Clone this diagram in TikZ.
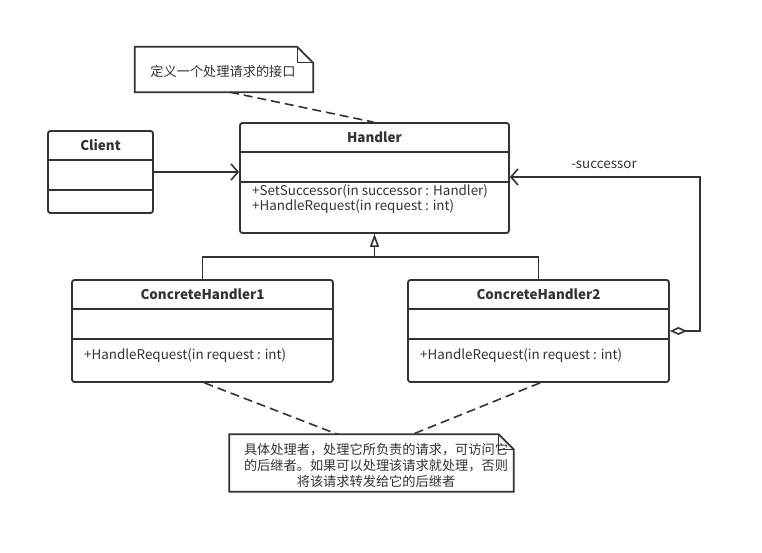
\documentclass[tikz,border=0pt]{standalone}
\usepackage{fontspec}
\setmainfont{Noto Sans CJK SC}
\usetikzlibrary{arrows.meta,calc}
\definecolor{ln}{HTML}{333333}
\begin{document}
\begin{tikzpicture}[x=1pt,y=-1pt,
  every node/.style={font=\fontsize{13.4}{15}\selectfont, text=ln},
  cls/.style={draw=ln, line width=1.8pt, rounded corners=2.5pt, inner sep=0pt},
  dv/.style={draw=ln, line width=1.8pt},
  ttl/.style={font=\fontsize{13.4}{15}\selectfont\bfseries},
  mth/.style={anchor=west, inner sep=0pt},
  conn/.style={draw=ln, line width=1.6pt},
  notedash/.style={conn, dash pattern=on 9pt off 5pt},
  notebox/.style={draw=ln, line width=1.8pt, line join=miter}
]
\useasboundingbox[fill=white] (0,0) rectangle (762,553);

% Classes
\node[cls, minimum width=269pt, minimum height=110pt] (handler) at (374.5,178) {};
\node[cls, minimum width=105pt, minimum height=82pt] (client) at (100.5,172) {};
\node[cls, minimum width=261pt, minimum height=102pt] (ch1) at (202.5,331) {};
\node[cls, minimum width=261pt, minimum height=102pt] (ch2) at (538.5,331) {};

% dividers
\foreach \c in {handler,client,ch1,ch2}{
  \draw[dv] ([yshift=-30pt]\c.north west) -- ([yshift=-30pt]\c.north east);
  \draw[dv] ([yshift=-60pt]\c.north west) -- ([yshift=-60pt]\c.north east);
}

% titles
\node[ttl] (handlerT) at ([yshift=-15pt]handler.north) {Handler};
\node[ttl] (clientT) at ([yshift=-15pt]client.north) {Client};
\node[ttl] (ch1T) at ([yshift=-15pt]ch1.north) {ConcreteHandler1};
\node[ttl] (ch2T) at ([yshift=-15pt]ch2.north) {ConcreteHandler2};

% methods
\node[mth] (hm1) at (252,191) {+SetSuccessor(in successor : Handler)};
\node[mth] (hm2) at (252,207) {+HandleRequest(in request : int)};
\node[mth] (c1m) at (84,356) {+HandleRequest(in request : int)};
\node[mth] (c2m) at (420,356) {+HandleRequest(in request : int)};

% notes
\node[minimum width=178pt, minimum height=45pt, inner sep=0pt] (note1) at (224,69.5) {};
\draw[notebox] (note1.south west) -- (note1.north west) -- ([xshift=-16pt]note1.north east)
  -- ([yshift=-16pt]note1.north east) -- (note1.south east) -- cycle;
\draw[notebox, line width=1.2pt] ([xshift=-16pt]note1.north east) |- ([yshift=-16pt]note1.north east);
\node[font=\fontsize{13.2}{15}\selectfont] (note1T) at (223,71) {定义一个处理请求的接口};

\node[minimum width=284pt, minimum height=57pt, inner sep=0pt] (note2) at (371.5,463) {};
\draw[notebox] (note2.south west) -- (note2.north west) -- ([xshift=-15pt]note2.north east)
  -- ([yshift=-15pt]note2.north east) -- (note2.south east) -- cycle;
\draw[notebox, line width=1.2pt] ([xshift=-15pt]note2.north east) |- ([yshift=-15pt]note2.north east);
\node[align=center, font=\fontsize{13.2}{16}\selectfont] (note2T) at (376,465)
  {具体处理者，处理它所负责的请求，可访问它\\的后继者。如果可以处理该请求就处理，否则\\将该请求转发给它的后继者};

% connectors
\draw[notedash] ([xshift=6pt]note1.south) -- ([xshift=-1pt]handler.north);
\draw[notedash] ([xshift=2pt]ch1.south) -- ([xshift=-34pt]note2.north);
\draw[notedash] ([xshift=1.5pt]ch2.south) -- ([xshift=41pt]note2.north);

\draw[conn, -{Straight Barb[length=7pt,width=16pt,line width=1.6pt]}] (client.east) -- (client.east -| handler.west);

\coordinate (bus) at (374.5,257);
\draw[conn] (ch1.north) |- (bus) -| (ch2.north);
\draw[conn, -{Triangle[open,length=13pt,width=9pt,line width=1.6pt]}] (bus) -- (handler.south);

\coordinate (succR) at (700,331);
\draw[conn, {Diamond[open,length=17pt,width=8pt,line width=1.6pt]}-{Straight Barb[length=7pt,width=16pt,line width=1.6pt]}]
  (ch2.east) -- (succR) |- ([yshift=1pt]handler.east);
\node (succL) at (604,165) {-successor};
\end{tikzpicture}
\end{document}
